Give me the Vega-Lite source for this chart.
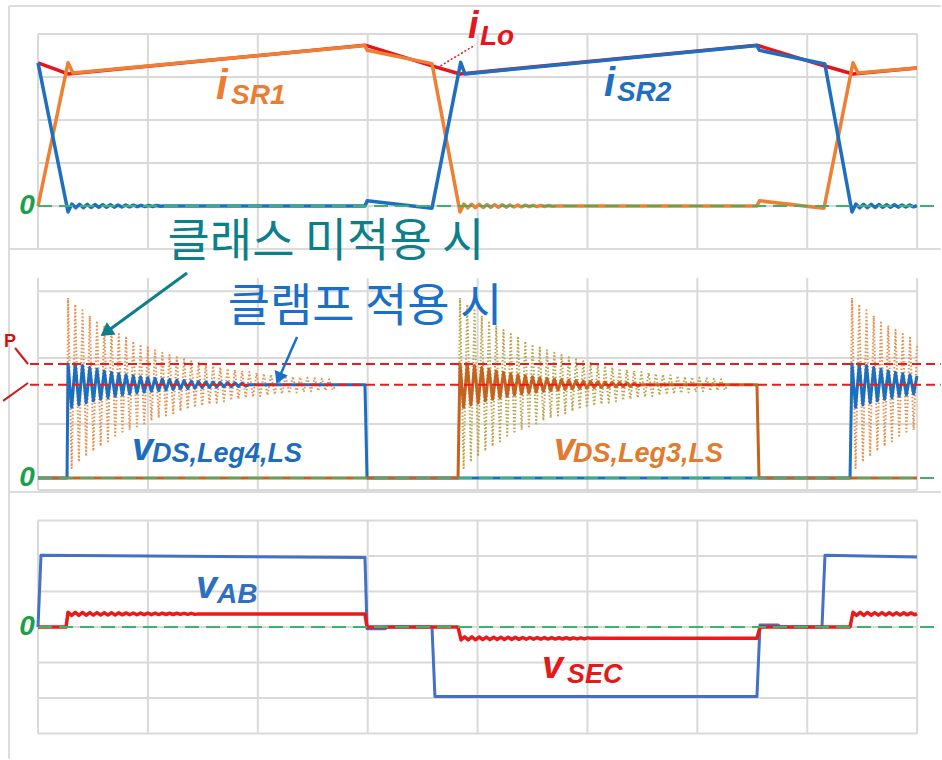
{
  "$schema": "https://vega.github.io/schema/vega-lite/v6.json",
  "padding": 0,
  "spacing": 0,
  "bounds": "flush",
  "background": "white",
  "config": {"view": {"stroke": null}},
  "resolve": {"scale": {"x": "independent", "y": "independent"}},
  "datasets": {
    "grid1": [
      {"t": 0, "t2": 0, "v": -10, "v2": 40}, {"t": 100, "t2": 100, "v": -10, "v2": 40}, {"t": 200, "t2": 200, "v": -10, "v2": 40},
      {"t": 300, "t2": 300, "v": -10, "v2": 40}, {"t": 400, "t2": 400, "v": -10, "v2": 40}, {"t": 500, "t2": 500, "v": -10, "v2": 40},
      {"t": 600, "t2": 600, "v": -10, "v2": 40}, {"t": 700, "t2": 700, "v": -10, "v2": 40}, {"t": 800, "t2": 800, "v": -10, "v2": 40},
      {"t": 0, "t2": 800, "v": -10, "v2": -10}, {"t": 0, "t2": 800, "v": 0, "v2": 0}, {"t": 0, "t2": 800, "v": 10, "v2": 10},
      {"t": 0, "t2": 800, "v": 20, "v2": 20}, {"t": 0, "t2": 800, "v": 30, "v2": 30}, {"t": 0, "t2": 800, "v": 40, "v2": 40}
    ],
    "grid2": [
      {"t": 0, "t2": 0, "v": -18, "v2": 300}, {"t": 100, "t2": 100, "v": -18, "v2": 300}, {"t": 200, "t2": 200, "v": -18, "v2": 300},
      {"t": 300, "t2": 300, "v": -18, "v2": 300}, {"t": 400, "t2": 400, "v": -18, "v2": 300}, {"t": 500, "t2": 500, "v": -18, "v2": 300},
      {"t": 600, "t2": 600, "v": -18, "v2": 300}, {"t": 700, "t2": 700, "v": -18, "v2": 300}, {"t": 800, "t2": 800, "v": -18, "v2": 300},
      {"t": 0, "t2": 800, "v": -18, "v2": -18}, {"t": 0, "t2": 800, "v": 81, "v2": 81},
      {"t": 0, "t2": 800, "v": 180, "v2": 180}, {"t": 0, "t2": 800, "v": 280, "v2": 280}
    ],
    "grid3": [
      {"t": 0, "t2": 0, "v": -300, "v2": 300}, {"t": 100, "t2": 100, "v": -300, "v2": 300}, {"t": 200, "t2": 200, "v": -300, "v2": 300},
      {"t": 300, "t2": 300, "v": -300, "v2": 300}, {"t": 400, "t2": 400, "v": -300, "v2": 300}, {"t": 500, "t2": 500, "v": -300, "v2": 300},
      {"t": 600, "t2": 600, "v": -300, "v2": 300}, {"t": 700, "t2": 700, "v": -300, "v2": 300}, {"t": 800, "t2": 800, "v": -300, "v2": 300},
      {"t": 0, "t2": 800, "v": -300, "v2": -300}, {"t": 0, "t2": 800, "v": -200, "v2": -200}, {"t": 0, "t2": 800, "v": -100, "v2": -100},
      {"t": 0, "t2": 800, "v": 0, "v2": 0}, {"t": 0, "t2": 800, "v": 100, "v2": 100}, {"t": 0, "t2": 800, "v": 200, "v2": 200},
      {"t": 0, "t2": 800, "v": 300, "v2": 300}
    ],
    "iLo": [
      {"t": 0, "v": 33.3}, {"t": 27.3, "v": 30.7}, {"t": 297.5, "v": 37.4}, {"t": 358.5, "v": 32.6}, {"t": 384, "v": 30.7},
      {"t": 654.2, "v": 37.4}, {"t": 715.2, "v": 32.6}, {"t": 741.6, "v": 30.7}, {"t": 799.8, "v": 32.1}
    ],
    "iSR1": [
      {"t": 0, "v": 0}, {"t": 27.3, "v": 33.3}, {"t": 31.8, "v": 30.9}, {"t": 297.5, "v": 37.3}, {"t": 299.5, "v": 36.2},
      {"t": 358.5, "v": 33.1}, {"t": 384, "v": -1.4}, {"t": 387.5, "v": 0.45}, {"t": 391, "v": -0.43}, {"t": 394.5, "v": 0.41},
      {"t": 398, "v": -0.39}, {"t": 401.5, "v": 0.37}, {"t": 405, "v": -0.35}, {"t": 408.5, "v": 0.34}, {"t": 412, "v": -0.32},
      {"t": 415.5, "v": 0.31}, {"t": 419, "v": -0.29}, {"t": 422.5, "v": 0.28}, {"t": 426, "v": -0.26}, {"t": 429.5, "v": 0.25},
      {"t": 433, "v": -0.23}, {"t": 436.5, "v": 0.22}, {"t": 440, "v": -0.2}, {"t": 443.5, "v": 0.19}, {"t": 447, "v": -0.17},
      {"t": 450.5, "v": 0.16}, {"t": 454, "v": -0.14}, {"t": 457.5, "v": 0.13}, {"t": 461, "v": -0.11}, {"t": 464.5, "v": 0.1},
      {"t": 468, "v": -0.08}, {"t": 471.5, "v": 0}, {"t": 654.2, "v": 0}, {"t": 656.5, "v": 1.2}, {"t": 715.2, "v": -0.5},
      {"t": 741.6, "v": 33.3}, {"t": 746.2, "v": 30.9}, {"t": 799.8, "v": 32.1}
    ],
    "iSR2": [
      {"t": 0, "v": 33.3}, {"t": 27.3, "v": -1.4}, {"t": 30.8, "v": 0.45}, {"t": 34.3, "v": -0.43}, {"t": 37.8, "v": 0.41},
      {"t": 41.3, "v": -0.39}, {"t": 44.8, "v": 0.37}, {"t": 48.3, "v": -0.35}, {"t": 51.8, "v": 0.34}, {"t": 55.3, "v": -0.32},
      {"t": 58.8, "v": 0.31}, {"t": 62.3, "v": -0.29}, {"t": 65.8, "v": 0.28}, {"t": 69.3, "v": -0.26}, {"t": 72.8, "v": 0.25},
      {"t": 76.3, "v": -0.23}, {"t": 79.8, "v": 0.22}, {"t": 83.3, "v": -0.2}, {"t": 86.8, "v": 0.19}, {"t": 90.3, "v": -0.17},
      {"t": 93.8, "v": 0.16}, {"t": 97.3, "v": -0.14}, {"t": 100.8, "v": 0.13}, {"t": 104.3, "v": -0.11}, {"t": 107.8, "v": 0.1},
      {"t": 111.3, "v": -0.08}, {"t": 114.8, "v": 0}, {"t": 297.5, "v": 0}, {"t": 299.5, "v": 1.2}, {"t": 358.5, "v": -0.5},
      {"t": 384.6, "v": 33.4}, {"t": 388.5, "v": 30.7}, {"t": 654.2, "v": 37.3}, {"t": 656.5, "v": 36.2}, {"t": 716, "v": 33.0},
      {"t": 740.7, "v": -1.4}, {"t": 744.2, "v": 0.45}, {"t": 747.7, "v": -0.43}, {"t": 751.2, "v": 0.41}, {"t": 754.7, "v": -0.39},
      {"t": 758.2, "v": 0.37}, {"t": 761.7, "v": -0.35}, {"t": 765.2, "v": 0.34}, {"t": 768.7, "v": -0.32}, {"t": 772.2, "v": 0.31},
      {"t": 775.7, "v": -0.29}, {"t": 779.2, "v": 0.28}, {"t": 782.7, "v": -0.26}, {"t": 786.2, "v": 0.25}, {"t": 789.7, "v": -0.23},
      {"t": 793.2, "v": 0.22}, {"t": 796.7, "v": -0.2}, {"t": 799.8, "v": 0.1}
    ],
    "u1": [
      {"t": 26.4, "v": 0}, {"t": 27.3, "v": 270}, {"t": 30.6, "v": 14.9}, {"t": 33.9, "v": 260.4}, {"t": 37.2, "v": 24.1},
      {"t": 40.5, "v": 251.5}, {"t": 43.8, "v": 32.7}, {"t": 47.1, "v": 243.3}, {"t": 50.4, "v": 40.6}, {"t": 53.7, "v": 235.7},
      {"t": 57.0, "v": 47.9}, {"t": 60.3, "v": 228.6}, {"t": 63.6, "v": 54.7}, {"t": 66.9, "v": 222.1}, {"t": 70.2, "v": 61.0},
      {"t": 73.5, "v": 216.0}, {"t": 76.8, "v": 66.8}, {"t": 80.1, "v": 210.4}, {"t": 83.4, "v": 72.2}, {"t": 86.7, "v": 205.2},
      {"t": 90.0, "v": 77.2}, {"t": 93.3, "v": 200.4}, {"t": 96.6, "v": 81.9}, {"t": 99.9, "v": 195.9}, {"t": 103.2, "v": 86.2},
      {"t": 106.5, "v": 191.8}, {"t": 109.8, "v": 90.1}, {"t": 113.1, "v": 188.0}, {"t": 116.4, "v": 93.8}, {"t": 119.7, "v": 184.4},
      {"t": 123.0, "v": 97.2}, {"t": 126.3, "v": 181.2}, {"t": 129.6, "v": 100.4}, {"t": 132.9, "v": 178.1}, {"t": 136.2, "v": 103.3},
      {"t": 139.5, "v": 175.3}, {"t": 142.8, "v": 106.0}, {"t": 146.1, "v": 172.7}, {"t": 149.4, "v": 108.5}, {"t": 152.7, "v": 170.3},
      {"t": 156.0, "v": 110.8}, {"t": 159.3, "v": 168.1}, {"t": 162.6, "v": 113.0}, {"t": 165.9, "v": 166.0}, {"t": 169.2, "v": 115.0},
      {"t": 172.5, "v": 164.1}, {"t": 175.8, "v": 116.8}, {"t": 179.1, "v": 162.3}, {"t": 182.4, "v": 118.5}, {"t": 185.7, "v": 160.7},
      {"t": 189.0, "v": 120.1}, {"t": 192.3, "v": 159.1}, {"t": 195.6, "v": 121.6}, {"t": 198.9, "v": 157.7}, {"t": 202.2, "v": 122.9},
      {"t": 205.5, "v": 156.4}, {"t": 208.8, "v": 124.2}, {"t": 212.1, "v": 155.2}, {"t": 215.4, "v": 125.4}, {"t": 218.7, "v": 154.1},
      {"t": 222.0, "v": 126.4}, {"t": 225.3, "v": 153.1}, {"t": 228.6, "v": 127.4}, {"t": 231.9, "v": 152.1}, {"t": 235.2, "v": 128.4},
      {"t": 238.5, "v": 151.2}, {"t": 241.8, "v": 129.2}, {"t": 245.1, "v": 150.4}, {"t": 248.4, "v": 130.0}, {"t": 251.7, "v": 149.6},
      {"t": 255.0, "v": 130.8}, {"t": 258.3, "v": 148.9}, {"t": 261.6, "v": 131.4}, {"t": 264.9, "v": 148.2}, {"t": 268.2, "v": 132.1},
      {"t": 271.5, "v": 140}
    ],
    "u2": [
      {"t": 382.2, "v": 0}, {"t": 384.0, "v": 270}, {"t": 387.3, "v": 14.9}, {"t": 390.6, "v": 260.4}, {"t": 393.9, "v": 24.1},
      {"t": 397.2, "v": 251.5}, {"t": 400.5, "v": 32.7}, {"t": 403.8, "v": 243.3}, {"t": 407.1, "v": 40.6}, {"t": 410.4, "v": 235.7},
      {"t": 413.7, "v": 47.9}, {"t": 417.0, "v": 228.6}, {"t": 420.3, "v": 54.7}, {"t": 423.6, "v": 222.1}, {"t": 426.9, "v": 61.0},
      {"t": 430.2, "v": 216.0}, {"t": 433.5, "v": 66.8}, {"t": 436.8, "v": 210.4}, {"t": 440.1, "v": 72.2}, {"t": 443.4, "v": 205.2},
      {"t": 446.7, "v": 77.2}, {"t": 450.0, "v": 200.4}, {"t": 453.3, "v": 81.9}, {"t": 456.6, "v": 195.9}, {"t": 459.9, "v": 86.2},
      {"t": 463.2, "v": 191.8}, {"t": 466.5, "v": 90.1}, {"t": 469.8, "v": 188.0}, {"t": 473.1, "v": 93.8}, {"t": 476.4, "v": 184.4},
      {"t": 479.7, "v": 97.2}, {"t": 483.0, "v": 181.2}, {"t": 486.3, "v": 100.4}, {"t": 489.6, "v": 178.1}, {"t": 492.9, "v": 103.3},
      {"t": 496.2, "v": 175.3}, {"t": 499.5, "v": 106.0}, {"t": 502.8, "v": 172.7}, {"t": 506.1, "v": 108.5}, {"t": 509.4, "v": 170.3},
      {"t": 512.7, "v": 110.8}, {"t": 516.0, "v": 168.1}, {"t": 519.3, "v": 113.0}, {"t": 522.6, "v": 166.0}, {"t": 525.9, "v": 115.0},
      {"t": 529.2, "v": 164.1}, {"t": 532.5, "v": 116.8}, {"t": 535.8, "v": 162.3}, {"t": 539.1, "v": 118.5}, {"t": 542.4, "v": 160.7},
      {"t": 545.7, "v": 120.1}, {"t": 549.0, "v": 159.1}, {"t": 552.3, "v": 121.6}, {"t": 555.6, "v": 157.7}, {"t": 558.9, "v": 122.9},
      {"t": 562.2, "v": 156.4}, {"t": 565.5, "v": 124.2}, {"t": 568.8, "v": 155.2}, {"t": 572.1, "v": 125.4}, {"t": 575.4, "v": 154.1},
      {"t": 578.7, "v": 126.4}, {"t": 582.0, "v": 153.1}, {"t": 585.3, "v": 127.4}, {"t": 588.6, "v": 152.1}, {"t": 591.9, "v": 128.4},
      {"t": 595.2, "v": 151.2}, {"t": 598.5, "v": 129.2}, {"t": 601.8, "v": 150.4}, {"t": 605.1, "v": 130.0}, {"t": 608.4, "v": 149.6},
      {"t": 611.7, "v": 130.8}, {"t": 615.0, "v": 148.9}, {"t": 618.3, "v": 131.4}, {"t": 621.6, "v": 148.2}, {"t": 624.9, "v": 132.1},
      {"t": 628.2, "v": 140}
    ],
    "u3": [
      {"t": 738.9, "v": 0}, {"t": 740.7, "v": 270}, {"t": 744.0, "v": 14.9}, {"t": 747.3, "v": 260.4}, {"t": 750.6, "v": 24.1},
      {"t": 753.9, "v": 251.5}, {"t": 757.2, "v": 32.7}, {"t": 760.5, "v": 243.3}, {"t": 763.8, "v": 40.6}, {"t": 767.1, "v": 235.7},
      {"t": 770.4, "v": 47.9}, {"t": 773.7, "v": 228.6}, {"t": 777.0, "v": 54.7}, {"t": 780.3, "v": 222.1}, {"t": 783.6, "v": 61.0},
      {"t": 786.9, "v": 216.0}, {"t": 790.2, "v": 66.8}, {"t": 793.5, "v": 210.4}, {"t": 796.8, "v": 72.2}, {"t": 799.8, "v": 200}
    ],
    "vds4": [
      {"t": 0, "v": 0}, {"t": 26.4, "v": 0}, {"t": 27.3, "v": 171}, {"t": 30.6, "v": 106.0}, {"t": 33.9, "v": 171},
      {"t": 37.2, "v": 109.6}, {"t": 40.5, "v": 168.8}, {"t": 43.8, "v": 112.8}, {"t": 47.1, "v": 165.7}, {"t": 50.4, "v": 115.7},
      {"t": 53.7, "v": 163.0}, {"t": 57.0, "v": 118.2}, {"t": 60.3, "v": 160.6}, {"t": 63.6, "v": 120.5}, {"t": 66.9, "v": 158.4},
      {"t": 70.2, "v": 122.6}, {"t": 73.5, "v": 156.5}, {"t": 76.8, "v": 124.4}, {"t": 80.1, "v": 154.7}, {"t": 83.4, "v": 126.1},
      {"t": 86.7, "v": 153.2}, {"t": 90.0, "v": 127.5}, {"t": 93.3, "v": 151.8}, {"t": 96.6, "v": 128.9}, {"t": 99.9, "v": 150.5},
      {"t": 103.2, "v": 130.0}, {"t": 106.5, "v": 149.4}, {"t": 109.8, "v": 131.1}, {"t": 113.1, "v": 148.4}, {"t": 116.4, "v": 132.0},
      {"t": 119.7, "v": 147.5}, {"t": 123.0, "v": 132.9}, {"t": 126.3, "v": 146.7}, {"t": 129.6, "v": 133.6}, {"t": 132.9, "v": 146.0},
      {"t": 136.2, "v": 134.3}, {"t": 139.5, "v": 145.4}, {"t": 142.8, "v": 134.9}, {"t": 146.1, "v": 144.8}, {"t": 149.4, "v": 135.5},
      {"t": 152.7, "v": 144.3}, {"t": 156.0, "v": 135.9}, {"t": 159.3, "v": 143.8}, {"t": 162.6, "v": 136.4}, {"t": 165.9, "v": 143.4},
      {"t": 169.2, "v": 136.8}, {"t": 172.5, "v": 143.1}, {"t": 175.8, "v": 137.1}, {"t": 179.1, "v": 142.7}, {"t": 182.4, "v": 137.4},
      {"t": 185.7, "v": 142.5}, {"t": 189.0, "v": 137.7}, {"t": 192.3, "v": 140}, {"t": 297.5, "v": 140}, {"t": 299.4, "v": 0},
      {"t": 738.9, "v": 0}, {"t": 740.7, "v": 171}, {"t": 744.0, "v": 106.0}, {"t": 747.3, "v": 171}, {"t": 750.6, "v": 109.6},
      {"t": 753.9, "v": 168.8}, {"t": 757.2, "v": 112.8}, {"t": 760.5, "v": 165.7}, {"t": 763.8, "v": 115.7}, {"t": 767.1, "v": 163.0},
      {"t": 770.4, "v": 118.2}, {"t": 773.7, "v": 160.6}, {"t": 777.0, "v": 120.5}, {"t": 780.3, "v": 158.4}, {"t": 783.6, "v": 122.6},
      {"t": 786.9, "v": 156.5}, {"t": 790.2, "v": 124.4}, {"t": 793.5, "v": 154.7}, {"t": 796.8, "v": 126.1}, {"t": 799.8, "v": 153}
    ],
    "vds3": [
      {"t": 0, "v": 0}, {"t": 382.2, "v": 0}, {"t": 384.0, "v": 171}, {"t": 387.3, "v": 106.0}, {"t": 390.6, "v": 171},
      {"t": 393.9, "v": 109.6}, {"t": 397.2, "v": 168.8}, {"t": 400.5, "v": 112.8}, {"t": 403.8, "v": 165.7}, {"t": 407.1, "v": 115.7},
      {"t": 410.4, "v": 163.0}, {"t": 413.7, "v": 118.2}, {"t": 417.0, "v": 160.6}, {"t": 420.3, "v": 120.5}, {"t": 423.6, "v": 158.4},
      {"t": 426.9, "v": 122.6}, {"t": 430.2, "v": 156.5}, {"t": 433.5, "v": 124.4}, {"t": 436.8, "v": 154.7}, {"t": 440.1, "v": 126.1},
      {"t": 443.4, "v": 153.2}, {"t": 446.7, "v": 127.5}, {"t": 450.0, "v": 151.8}, {"t": 453.3, "v": 128.9}, {"t": 456.6, "v": 150.5},
      {"t": 459.9, "v": 130.0}, {"t": 463.2, "v": 149.4}, {"t": 466.5, "v": 131.1}, {"t": 469.8, "v": 148.4}, {"t": 473.1, "v": 132.0},
      {"t": 476.4, "v": 147.5}, {"t": 479.7, "v": 132.9}, {"t": 483.0, "v": 146.7}, {"t": 486.3, "v": 133.6}, {"t": 489.6, "v": 146.0},
      {"t": 492.9, "v": 134.3}, {"t": 496.2, "v": 145.4}, {"t": 499.5, "v": 134.9}, {"t": 502.8, "v": 144.8}, {"t": 506.1, "v": 135.5},
      {"t": 509.4, "v": 144.3}, {"t": 512.7, "v": 135.9}, {"t": 516.0, "v": 143.8}, {"t": 519.3, "v": 136.4}, {"t": 522.6, "v": 143.4},
      {"t": 525.9, "v": 136.8}, {"t": 529.2, "v": 143.1}, {"t": 532.5, "v": 137.1}, {"t": 535.8, "v": 142.7}, {"t": 539.1, "v": 137.4},
      {"t": 542.4, "v": 142.5}, {"t": 545.7, "v": 137.7}, {"t": 549.0, "v": 140}, {"t": 654.2, "v": 140}, {"t": 656.1, "v": 0},
      {"t": 799.8, "v": 0}
    ],
    "vab": [
      {"t": 0, "v": 0}, {"t": 2.7, "v": 202}, {"t": 297.5, "v": 196}, {"t": 299.4, "v": -5}, {"t": 315.7, "v": -5},
      {"t": 317.5, "v": 0}, {"t": 358.5, "v": 0}, {"t": 361.2, "v": -196}, {"t": 654.2, "v": -196}, {"t": 657, "v": 6},
      {"t": 673.4, "v": 6}, {"t": 675.2, "v": 0}, {"t": 713.4, "v": 0}, {"t": 716.1, "v": 202}, {"t": 799.8, "v": 197}
    ],
    "vsec": [
      {"t": 0, "v": 0}, {"t": 25.5, "v": 0}, {"t": 27.3, "v": 41.5}, {"t": 30.6, "v": 32.6}, {"t": 33.9, "v": 41.2},
      {"t": 37.2, "v": 32.9}, {"t": 40.5, "v": 40.9}, {"t": 43.8, "v": 33.2}, {"t": 47.1, "v": 40.7}, {"t": 50.4, "v": 33.4},
      {"t": 53.7, "v": 40.5}, {"t": 57.0, "v": 33.7}, {"t": 60.3, "v": 40.2}, {"t": 63.6, "v": 33.9}, {"t": 66.9, "v": 40.0},
      {"t": 70.2, "v": 34.1}, {"t": 73.5, "v": 39.8}, {"t": 76.8, "v": 34.3}, {"t": 80.1, "v": 39.7}, {"t": 83.4, "v": 34.4},
      {"t": 86.7, "v": 39.5}, {"t": 90.0, "v": 34.6}, {"t": 93.3, "v": 39.3}, {"t": 96.6, "v": 34.8}, {"t": 99.9, "v": 39.2},
      {"t": 103.2, "v": 34.9}, {"t": 106.5, "v": 39.0}, {"t": 109.8, "v": 35.0}, {"t": 113.1, "v": 38.9}, {"t": 116.4, "v": 35.2},
      {"t": 119.7, "v": 38.8}, {"t": 123.0, "v": 35.3}, {"t": 126.3, "v": 38.7}, {"t": 129.6, "v": 35.4}, {"t": 132.9, "v": 38.6},
      {"t": 136.2, "v": 35.5}, {"t": 139.5, "v": 38.5}, {"t": 142.8, "v": 35.6}, {"t": 146.1, "v": 37}, {"t": 297.5, "v": 37},
      {"t": 299.4, "v": 0}, {"t": 382.2, "v": 0}, {"t": 384.9, "v": -36.5}, {"t": 388.2, "v": -27.6}, {"t": 391.5, "v": -36.2},
      {"t": 394.8, "v": -27.9}, {"t": 398.1, "v": -35.9}, {"t": 401.4, "v": -28.2}, {"t": 404.7, "v": -35.7}, {"t": 408.0, "v": -28.4},
      {"t": 411.3, "v": -35.5}, {"t": 414.6, "v": -28.7}, {"t": 417.9, "v": -35.2}, {"t": 421.2, "v": -28.9}, {"t": 424.5, "v": -35.0},
      {"t": 427.8, "v": -29.1}, {"t": 431.1, "v": -34.8}, {"t": 434.4, "v": -29.3}, {"t": 437.7, "v": -34.7}, {"t": 441.0, "v": -29.4},
      {"t": 444.3, "v": -34.5}, {"t": 447.6, "v": -29.6}, {"t": 450.9, "v": -34.3}, {"t": 454.2, "v": -29.8}, {"t": 457.5, "v": -34.2},
      {"t": 460.8, "v": -29.9}, {"t": 464.1, "v": -34.0}, {"t": 467.4, "v": -30.0}, {"t": 470.7, "v": -33.9}, {"t": 474.0, "v": -30.2},
      {"t": 477.3, "v": -33.8}, {"t": 480.6, "v": -30.3}, {"t": 483.9, "v": -33.7}, {"t": 487.2, "v": -30.4}, {"t": 490.5, "v": -33.6},
      {"t": 493.8, "v": -30.5}, {"t": 497.1, "v": -33.5}, {"t": 500.4, "v": -30.6}, {"t": 503.7, "v": -32}, {"t": 654.2, "v": -32},
      {"t": 657, "v": 0}, {"t": 738.9, "v": 0}, {"t": 741.6, "v": 41.5}, {"t": 744.9, "v": 32.6}, {"t": 748.2, "v": 41.2},
      {"t": 751.5, "v": 32.9}, {"t": 754.8, "v": 40.9}, {"t": 758.1, "v": 33.2}, {"t": 761.4, "v": 40.7}, {"t": 764.7, "v": 33.4},
      {"t": 768.0, "v": 40.5}, {"t": 771.3, "v": 33.7}, {"t": 774.6, "v": 40.2}, {"t": 777.9, "v": 33.9}, {"t": 781.2, "v": 40.0},
      {"t": 784.5, "v": 34.1}, {"t": 787.8, "v": 39.8}, {"t": 791.1, "v": 34.3}, {"t": 794.4, "v": 39.7}, {"t": 797.7, "v": 34.4},
      {"t": 799.8, "v": 37.5}
    ]
  },
  "vconcat": [
    {
      "width": 942,
      "height": 249,
      "encoding": {
        "x": {"field": "t", "type": "quantitative", "scale": {"domain": [-34.6, 822.6], "nice": false, "zero": false}, "axis": null},
        "y": {"field": "v", "type": "quantitative", "scale": {"domain": [-10, 47.9], "nice": false, "zero": false}, "axis": null}
      },
      "layer": [
        {"data": {"name": "grid1"}, "mark": {"type": "rule", "color": "#d9d9d9", "strokeWidth": 2}, "encoding": {"x2": {"field": "t2"}, "y2": {"field": "v2"}}},
        {"data": {"values": [{"t": -26.4, "t2": -26.4, "v": -10, "v2": 46.5}, {"t": -26.4, "t2": 821.5, "v": 46.5, "v2": 46.5}]}, "mark": {"type": "rule", "color": "#dcdcdc", "strokeWidth": 2}, "encoding": {"x2": {"field": "t2"}, "y2": {"field": "v2"}}},
        {"data": {"name": "iLo"}, "mark": {"type": "line", "color": "#e8141c", "strokeWidth": 3.5, "strokeJoin": "round"}},
        {"data": {"name": "iSR1"}, "mark": {"type": "line", "color": "#ee7f33", "strokeWidth": 3.5, "strokeJoin": "round"}},
        {"data": {"name": "iSR2"}, "mark": {"type": "line", "color": "#1f6fc1", "strokeWidth": 3.5, "strokeJoin": "round"}},
        {"data": {"values": [{"t": 0, "v": 0}, {"t": 821.5, "v": 0}]}, "mark": {"type": "line", "color": "#3bb36a", "strokeWidth": 2, "strokeDash": [14, 7]}},
        {"data": {"values": [{"t": 363.1, "v": 32.1}, {"t": 397.6, "v": 37.4}]}, "mark": {"type": "line", "color": "#e8141c", "strokeWidth": 1.5, "strokeDash": [2, 2]}},
        {"data": {"values": [{"t": -10, "v": 0, "txt": "0"}]}, "mark": {"type": "text", "font": "Liberation Sans", "fontSize": 28, "fontWeight": "bold", "fontStyle": "italic", "color": "#19a04b", "align": "center", "baseline": "middle"}, "encoding": {"text": {"field": "txt"}}},
        {"data": {"values": [{"t": 391.3, "v": 39.1, "txt": "i"}]}, "mark": {"type": "text", "font": "Liberation Sans", "fontSize": 38, "fontWeight": "bold", "fontStyle": "italic", "color": "#e8141c", "align": "left", "baseline": "alphabetic"}, "encoding": {"text": {"field": "txt"}}},
        {"data": {"values": [{"t": 402.2, "v": 37.4, "txt": "Lo"}]}, "mark": {"type": "text", "font": "Liberation Sans", "fontSize": 28, "fontWeight": "bold", "fontStyle": "italic", "color": "#e8141c", "align": "left", "baseline": "alphabetic"}, "encoding": {"text": {"field": "txt"}}},
        {"data": {"values": [{"t": 162.0, "v": 24.9, "txt": "i"}]}, "mark": {"type": "text", "font": "Liberation Sans", "fontSize": 42, "fontWeight": "bold", "fontStyle": "italic", "color": "#ea7d30", "align": "left", "baseline": "alphabetic"}, "encoding": {"text": {"field": "txt"}}},
        {"data": {"values": [{"t": 175.6, "v": 23.7, "txt": "SR1"}]}, "mark": {"type": "text", "font": "Liberation Sans", "fontSize": 28, "fontWeight": "bold", "fontStyle": "italic", "color": "#ea7d30", "align": "left", "baseline": "alphabetic"}, "encoding": {"text": {"field": "txt"}}},
        {"data": {"values": [{"t": 515.0, "v": 25.6, "txt": "i"}]}, "mark": {"type": "text", "font": "Liberation Sans", "fontSize": 40, "fontWeight": "bold", "fontStyle": "italic", "color": "#1f6fc1", "align": "left", "baseline": "alphabetic"}, "encoding": {"text": {"field": "txt"}}},
        {"data": {"values": [{"t": 526.8, "v": 24.4, "txt": "SR2"}]}, "mark": {"type": "text", "font": "Liberation Sans", "fontSize": 28, "fontWeight": "bold", "fontStyle": "italic", "color": "#1f6fc1", "align": "left", "baseline": "alphabetic"}, "encoding": {"text": {"field": "txt"}}}
      ]
    },
    {
      "width": 942,
      "height": 243,
      "encoding": {
        "x": {"field": "t", "type": "quantitative", "scale": {"domain": [-34.6, 822.6], "nice": false, "zero": false}, "axis": null},
        "y": {"field": "v", "type": "quantitative", "scale": {"domain": [-21, 343.5], "nice": false, "zero": false}, "axis": null}
      },
      "layer": [
        {"data": {"name": "grid2"}, "mark": {"type": "rule", "color": "#d9d9d9", "strokeWidth": 2}, "encoding": {"x2": {"field": "t2"}, "y2": {"field": "v2"}}},
        {"data": {"values": [{"t": -26.4, "t2": -26.4, "v": -21, "v2": 343.5}, {"t": -26.4, "t2": 821.5, "v": 343.5, "v2": 343.5}]}, "mark": {"type": "rule", "color": "#dcdcdc", "strokeWidth": 2}, "encoding": {"x2": {"field": "t2"}, "y2": {"field": "v2"}}},
        {"data": {"name": "u1"}, "mark": {"type": "line", "color": "#e8904c", "strokeWidth": 2, "strokeDash": [1.5, 2], "strokeJoin": "round"}},
        {"data": {"name": "u3"}, "mark": {"type": "line", "color": "#e8904c", "strokeWidth": 2, "strokeDash": [1.5, 2], "strokeJoin": "round"}},
        {"data": {"name": "u2"}, "mark": {"type": "line", "color": "#bba449", "strokeWidth": 2, "strokeDash": [1.5, 2], "strokeJoin": "round"}},
        {"data": {"name": "vds4"}, "mark": {"type": "line", "color": "#1b6fc0", "strokeWidth": 3, "strokeJoin": "round"}},
        {"data": {"name": "vds3"}, "mark": {"type": "line", "color": "#c5621f", "strokeWidth": 3, "strokeJoin": "round"}},
        {"data": {"values": [{"t": 0, "v": 0}, {"t": 821.5, "v": 0}]}, "mark": {"type": "line", "color": "#3bb36a", "strokeWidth": 2, "strokeDash": [14, 7]}},
        {"data": {"values": [{"t": -7.3, "t2": 821.5, "v": 171, "v2": 171}, {"t": -7.3, "t2": 821.5, "v": 140, "v2": 140}]}, "mark": {"type": "rule", "color": "#f01818", "strokeWidth": 2, "strokeDash": [9, 5]}, "encoding": {"x2": {"field": "t2"}, "y2": {"field": "v2"}}},
        {"data": {"values": [{"t": -20.9, "t2": -9.1, "v": 195, "v2": 171}, {"t": -31.8, "t2": -9.1, "v": 115.6, "v2": 142.5}]}, "mark": {"type": "rule", "color": "#d41818", "strokeWidth": 2}, "encoding": {"x2": {"field": "t2"}, "y2": {"field": "v2"}}},
        {"data": {"values": [{"t": -20, "v": 196.5, "txt": "P"}]}, "mark": {"type": "text", "font": "Liberation Sans", "fontSize": 18, "fontWeight": "bold", "color": "#cc1111", "align": "right", "baseline": "alphabetic"}, "encoding": {"text": {"field": "txt"}}},
        {"data": {"values": [{"t": 135.6, "t2": 63.4, "v": 307.5, "v2": 220.6}]}, "mark": {"type": "rule", "color": "#0d7f8b", "strokeWidth": 3}, "encoding": {"x2": {"field": "t2"}, "y2": {"field": "v2"}}},
        {"data": {"values": [{"t": 63.4, "v": 220.6}]}, "mark": {"type": "point", "shape": "triangle", "filled": true, "size": 230, "angle": 234, "color": "#0d7f8b", "opacity": 1}},
        {"data": {"values": [{"t": 235.7, "t2": 219.9, "v": 211.5, "v2": 152.2}]}, "mark": {"type": "rule", "color": "#1a70c8", "strokeWidth": 2.5}, "encoding": {"x2": {"field": "t2"}, "y2": {"field": "v2"}}},
        {"data": {"values": [{"t": 219.9, "v": 152.2}]}, "mark": {"type": "point", "shape": "triangle", "filled": true, "size": 200, "angle": 202.5, "color": "#1a70c8", "opacity": 1}},
        {"data": {"values": [{"t": 262, "v": 354, "txt": "클래스 미적용 시"}]}, "mark": {"type": "text", "font": "Noto Sans CJK KR", "fontSize": 46, "color": "#0d7f8b", "align": "center", "baseline": "middle"}, "encoding": {"text": {"field": "txt"}}},
        {"data": {"values": [{"t": 297.5, "v": 256.5, "txt": "클램프 적용 시"}]}, "mark": {"type": "text", "font": "Noto Sans CJK KR", "fontSize": 46, "color": "#1a70c8", "align": "center", "baseline": "middle"}, "encoding": {"text": {"field": "txt"}}},
        {"data": {"values": [{"t": -10, "v": 0, "txt": "0"}]}, "mark": {"type": "text", "font": "Liberation Sans", "fontSize": 28, "fontWeight": "bold", "fontStyle": "italic", "color": "#19a04b", "align": "center", "baseline": "middle"}, "encoding": {"text": {"field": "txt"}}},
        {"data": {"values": [{"t": 85.5, "v": 27, "txt": "v"}]}, "mark": {"type": "text", "font": "Liberation Sans", "fontSize": 38, "fontWeight": "bold", "fontStyle": "italic", "color": "#1f6cbf", "align": "left", "baseline": "alphabetic"}, "encoding": {"text": {"field": "txt"}}},
        {"data": {"values": [{"t": 103.7, "v": 24, "txt": "DS,Leg4,LS"}]}, "mark": {"type": "text", "font": "Liberation Sans", "fontSize": 27, "fontWeight": "bold", "fontStyle": "italic", "color": "#1f6cbf", "align": "left", "baseline": "alphabetic"}, "encoding": {"text": {"field": "txt"}}},
        {"data": {"values": [{"t": 469.5, "v": 27, "txt": "v"}]}, "mark": {"type": "text", "font": "Liberation Sans", "fontSize": 38, "fontWeight": "bold", "fontStyle": "italic", "color": "#e07b2f", "align": "left", "baseline": "alphabetic"}, "encoding": {"text": {"field": "txt"}}},
        {"data": {"values": [{"t": 486.8, "v": 24, "txt": "DS,Leg3,LS"}]}, "mark": {"type": "text", "font": "Liberation Sans", "fontSize": 27, "fontWeight": "bold", "fontStyle": "italic", "color": "#e07b2f", "align": "left", "baseline": "alphabetic"}, "encoding": {"text": {"field": "txt"}}}
      ]
    },
    {
      "width": 942,
      "height": 268,
      "encoding": {
        "x": {"field": "t", "type": "quantitative", "scale": {"domain": [-34.6, 822.6], "nice": false, "zero": false}, "axis": null},
        "y": {"field": "v", "type": "quantitative", "scale": {"domain": [-374.6, 380.3], "nice": false, "zero": false}, "axis": null}
      },
      "layer": [
        {"data": {"name": "grid3"}, "mark": {"type": "rule", "color": "#d9d9d9", "strokeWidth": 2}, "encoding": {"x2": {"field": "t2"}, "y2": {"field": "v2"}}},
        {"data": {"values": [{"t": -26.4, "t2": -26.4, "v": -371, "v2": 380.3}, {"t": -26.4, "t2": 821.5, "v": 380.3, "v2": 380.3}]}, "mark": {"type": "rule", "color": "#dcdcdc", "strokeWidth": 2}, "encoding": {"x2": {"field": "t2"}, "y2": {"field": "v2"}}},
        {"data": {"name": "vab"}, "mark": {"type": "line", "color": "#4471c4", "strokeWidth": 3, "strokeJoin": "round"}},
        {"data": {"name": "vsec"}, "mark": {"type": "line", "color": "#ea1a1a", "strokeWidth": 3.5, "strokeJoin": "round"}},
        {"data": {"values": [{"t": 0, "v": 0}, {"t": 821.5, "v": 0}]}, "mark": {"type": "line", "color": "#3bb36a", "strokeWidth": 2, "strokeDash": [14, 7]}},
        {"data": {"values": [{"t": -10, "v": 0, "txt": "0"}]}, "mark": {"type": "text", "font": "Liberation Sans", "fontSize": 28, "fontWeight": "bold", "fontStyle": "italic", "color": "#19a04b", "align": "center", "baseline": "middle"}, "encoding": {"text": {"field": "txt"}}},
        {"data": {"values": [{"t": 143.8, "v": 81.7, "txt": "v"}]}, "mark": {"type": "text", "font": "Liberation Sans", "fontSize": 38, "fontWeight": "bold", "fontStyle": "italic", "color": "#2f6fc1", "align": "left", "baseline": "alphabetic"}, "encoding": {"text": {"field": "txt"}}},
        {"data": {"values": [{"t": 162.9, "v": 67.6, "txt": "AB"}]}, "mark": {"type": "text", "font": "Liberation Sans", "fontSize": 28, "fontWeight": "bold", "fontStyle": "italic", "color": "#2f6fc1", "align": "left", "baseline": "alphabetic"}, "encoding": {"text": {"field": "txt"}}},
        {"data": {"values": [{"t": 458.6, "v": -143.7, "txt": "v"}]}, "mark": {"type": "text", "font": "Liberation Sans", "fontSize": 38, "fontWeight": "bold", "fontStyle": "italic", "color": "#e41a1a", "align": "left", "baseline": "alphabetic"}, "encoding": {"text": {"field": "txt"}}},
        {"data": {"values": [{"t": 481.3, "v": -157.7, "txt": "SEC"}]}, "mark": {"type": "text", "font": "Liberation Sans", "fontSize": 27, "fontWeight": "bold", "fontStyle": "italic", "color": "#e41a1a", "align": "left", "baseline": "alphabetic"}, "encoding": {"text": {"field": "txt"}}}
      ]
    }
  ]
}
